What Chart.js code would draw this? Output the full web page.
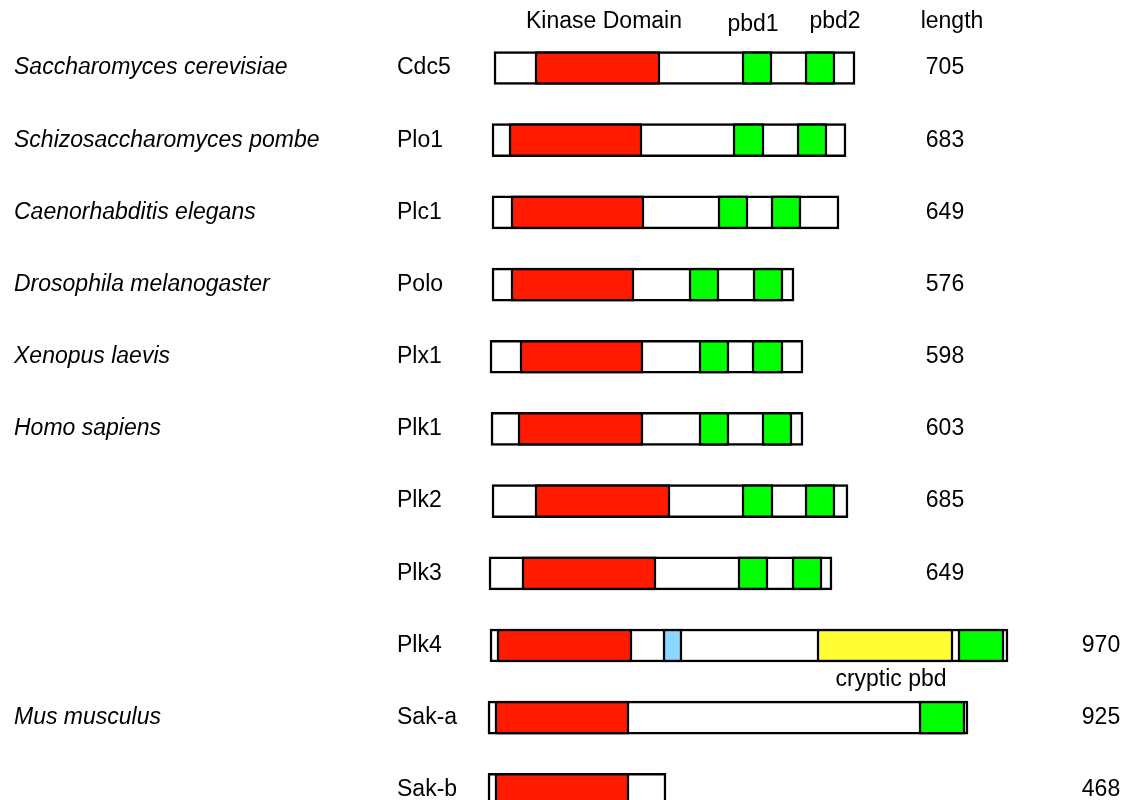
<!DOCTYPE html>
<html>
<head>
<meta charset="utf-8">
<script src="https://cdn.jsdelivr.net/npm/chart.js@4/dist/chart.umd.min.js"></script>
<style>
  html, body { margin: 0; padding: 0; background: #fff; }
  #wrap { width: 1127px; height: 800px; position: relative; }
</style>
</head>
<body>
<div id="wrap"><canvas id="domains"></canvas></div>
<script>
// Data (x in figure units, roughly the drawing's horizontal layout)
const species = ['Saccharomyces cerevisiae', 'Schizosaccharomyces pombe', 'Caenorhabditis elegans',
    'Drosophila melanogaster', 'Xenopus laevis', 'Homo sapiens', '', '', '', 'Mus musculus', ''];
const proteins = ['Cdc5', 'Plo1', 'Plc1', 'Polo', 'Plx1', 'Plk1', 'Plk2', 'Plk3', 'Plk4', 'Sak-a', 'Sak-b'];
const lengths = [705, 683, 649, 576, 598, 603, 685, 649, 970, 925, 468];

const fullBox = [[494, 855], [492, 846], [492, 839], [492, 794], [490, 803], [491, 803],
    [492, 848], [489, 832], [490, 1008], [488, 968], [488, 666]];
const kinase = [[535, 660], [509, 642], [511, 644], [511, 634], [520, 643], [518, 643],
    [535, 670], [522, 656], [497, 632], [495, 629], [495, 629]];
const pbd1 = [[742, 772], [733, 764], [718, 748], [689, 719], [699, 729], [699, 729],
    [742, 773], [738, 768], null, null, null];
const pbd2 = [[805, 835], [797, 827], [771, 801], [753, 783], [752, 783], [762, 792],
    [805, 835], [792, 822], [958, 1004], [919, 965], null];
const blueBox = [null, null, null, null, null, null, null, null, [663, 682], null, null];
const crypticPbd = [null, null, null, null, null, null, null, null, [817, 953], null, null];

const headers = [
    { text: 'Kinase Domain', at: 604 },
    { text: 'pbd1', at: 753 },
    { text: 'pbd2', at: 835 },
    { text: 'length', at: 952 }
];

const FONT = '"Liberation Sans", Arial, sans-serif';

function toPoints(ranges) {
    const pts = [];
    ranges.forEach((r, i) => { if (r) pts.push({ y: i, x: r }); });
    return pts;
}

function segment(label, ranges, color, order) {
    return {
        label: label,
        data: toPoints(ranges),
        backgroundColor: color,
        borderColor: '#000',
        borderWidth: 2.5,
        borderSkipped: false,
        grouped: false,
        barThickness: 33,
        order: order
    };
}

// Text labels drawn with the chart's own scales
const labelPlugin = {
    id: 'labels',
    afterDatasetsDraw(chart) {
        const ctx = chart.ctx;
        const xs = chart.scales.x;
        const ys = chart.scales.y;
        ctx.save();
        ctx.fillStyle = '#000';
        ctx.textBaseline = 'middle';

        ctx.font = '23px ' + FONT;
        ctx.textAlign = 'center';
        headers.forEach(h => ctx.fillText(h.text, xs.getPixelForValue(h.at), h.text === 'pbd1' ? 25 : 22));

        // Plk4 and the mouse Sak rows put their length further right
        const farFrom = proteins.indexOf('Plk4');
        proteins.forEach((p, i) => {
            const y = ys.getPixelForValue(i);
            ctx.font = 'italic 23px ' + FONT;
            ctx.textAlign = 'left';
            if (species[i]) ctx.fillText(species[i], xs.getPixelForValue(14), y);
            ctx.font = '23px ' + FONT;
            ctx.fillText(p, xs.getPixelForValue(397), y);
            ctx.textAlign = 'center';
            const lx = i >= farFrom ? 1101 : 945;
            ctx.fillText(String(lengths[i]), xs.getPixelForValue(lx), y);
        });

        // cryptic pbd caption under the yellow block
        crypticPbd.forEach((r, i) => {
            if (!r) return;
            ctx.textAlign = 'center';
            ctx.fillText('cryptic pbd', xs.getPixelForValue((r[0] + r[1]) / 2 + 6), ys.getPixelForValue(i) + 34);
        });
        ctx.restore();
    }
};

const ctx = document.getElementById('domains').getContext('2d');
new Chart(ctx, {
    type: 'bar',
    data: {
        datasets: [
            segment('protein', fullBox, '#ffffff', 10),
            segment('kinase', kinase, '#ff1a00', 1),
            segment('pbd1', pbd1, '#00ff00', 1),
            segment('pbd2', pbd2, '#00ff00', 1),
            segment('other', blueBox, '#8ad8ff', 1),
            segment('cryptic pbd', crypticPbd, '#ffff33', 1)
        ]
    },
    options: {
        indexAxis: 'y',
        responsive: true,
        maintainAspectRatio: false,
        animation: false,
        layout: { padding: 0 },
        plugins: {
            legend: { display: false },
            tooltip: { enabled: false }
        },
        scales: {
            x: { type: 'linear', min: 0, max: 1127, display: false, offset: false },
            y: { type: 'linear', reverse: true, min: -0.942, max: 10.14, display: false, offset: false, grace: 0 }
        }
    },
    plugins: [labelPlugin]
});
</script>
</body>
</html>
